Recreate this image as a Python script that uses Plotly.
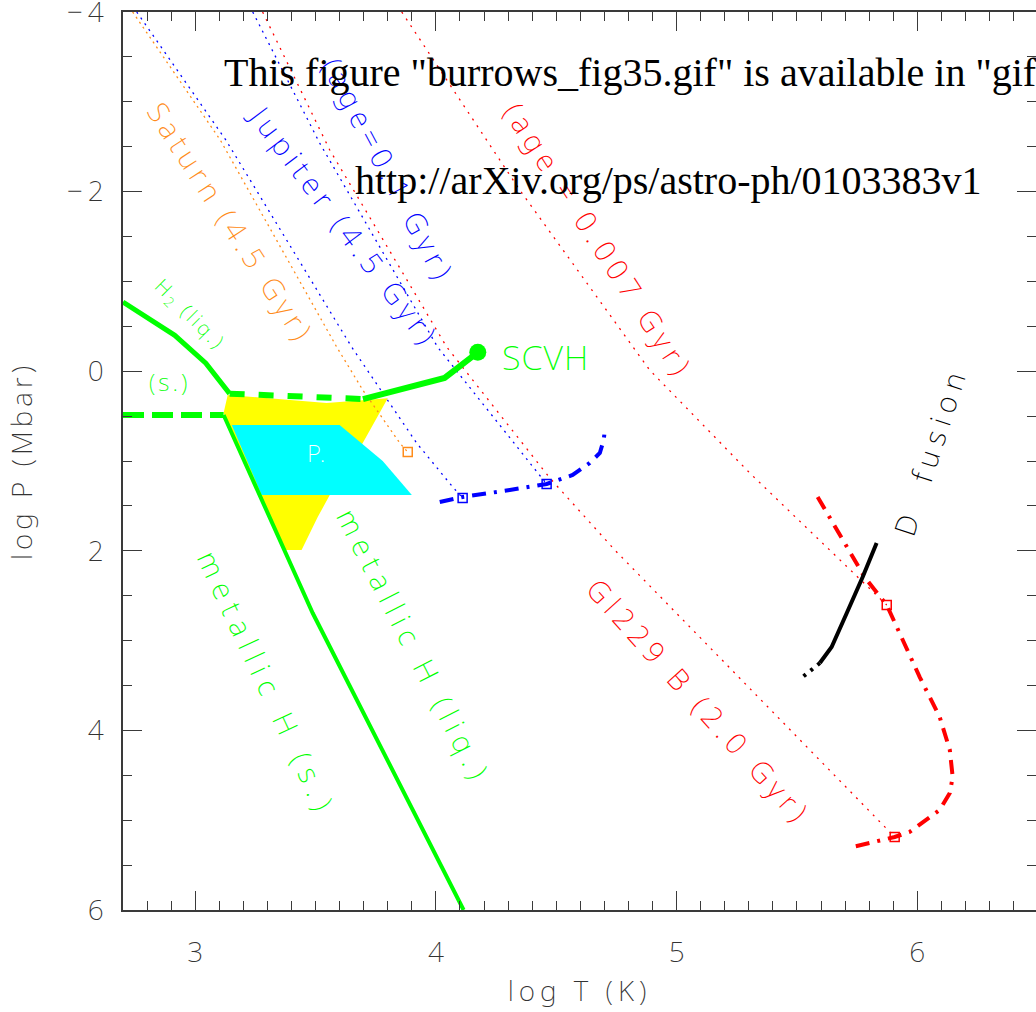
import plotly.graph_objects as go

# ---------------- data (log T [K], log P [Mbar]) ----------------
h2_melt_T = [2.70, 2.915, 3.044, 3.143]
h2_melt_P = [-0.77, -0.40, -0.09, 0.25]

ppt_dash_T = [3.143, 3.697]
ppt_dash_P = [0.25, 0.31]

scvh_T = [3.697, 4.036, 4.174]
scvh_P = [0.31, 0.075, -0.21]

solid_dash_T = [2.70, 3.118]
solid_dash_P = [0.488, 0.488]

metal_melt_T = [3.118, 3.488, 4.115]
metal_melt_P = [0.488, 2.693, 6.0]

yellow_T = [3.135, 3.546, 3.800, 3.696, 3.559, 3.509, 3.442, 3.372, 3.118]
yellow_P = [0.265, 0.354, 0.300, 0.800, 1.379, 1.624, 1.990, 1.990, 0.466]

cyan_T = [3.152, 3.600, 3.779, 3.900, 3.276]
cyan_P = [0.599, 0.599, 1.000, 1.379, 1.379]

saturn_T = [2.740, 3.104, 3.588, 3.696, 3.850, 3.883]
saturn_P = [-4.0, -2.575, -0.269, 0.209, 0.800, 0.900]

jupiter_T = [2.757, 3.127, 3.650, 3.920, 4.070, 4.111]
jupiter_P = [-4.0, -2.575, -0.269, 0.800, 1.290, 1.412]

age01_T = [3.239, 3.517, 4.007, 4.460]
age01_P = [-4.0, -2.541, -0.269, 1.256]

gl229_T = [3.280, 3.559, 4.045, 4.473, 4.743, 5.665, 5.906]
gl229_P = [-4.0, -2.463, -0.269, 1.189, 1.991, 4.519, 5.187]

age0007_T = [3.858, 4.348, 4.888, 5.304, 5.873]
age0007_P = [-4.0, -2.018, -0.013, 1.134, 2.604]

blue_track_T = [4.016, 4.111, 4.307, 4.460, 4.568, 4.639, 4.681, 4.697, 4.701]
blue_track_P = [1.457, 1.401, 1.323, 1.256, 1.156, 1.022, 0.911, 0.766, 0.677]

red_track_T = [5.586, 5.781, 5.873, 5.927, 6.010, 6.093, 6.135, 6.147, 6.135, 6.093, 5.968, 5.906, 5.732]
red_track_P = [1.401, 2.292, 2.604, 2.916, 3.406, 3.851, 4.218, 4.519, 4.697, 4.886, 5.131, 5.187, 5.298]

dfus_T = [5.831, 5.773, 5.707, 5.644, 5.595]
dfus_P = [1.913, 2.292, 2.693, 3.071, 3.250]
dfus_tail_T = [5.595, 5.561, 5.524]
dfus_tail_P = [3.250, 3.327, 3.405]

orange_sq_T = [3.883]
orange_sq_P = [0.900]
blue_sq_T = [4.111, 4.460]
blue_sq_P = [1.412, 1.256]
red_sq_T = [5.873, 5.906]
red_sq_P = [2.604, 5.187]

scvh_pt_T = [4.174]
scvh_pt_P = [-0.21]

x_ticks = [3, 4, 5, 6]
x_ticktext = ["3", "4", "5", "6"]
y_ticks = [-4, -2, 0, 2, 4, 6]
y_ticktext = ["\u2212\u20094", "\u2212\u20092", "0", "2", "4", "6"]

GREEN = "#00ff00"
BLUE = "#0000ff"
RED = "#ff0000"
ORANGE = "#ff8c1a"
FONT = "Noto Sans"
WEIGHT = 200
AXC = "#3a3a3a"

fig = go.Figure()


def spaced(text, ls):
    return f'<span style="letter-spacing:{ls}px">{text}</span>'


def line(x, y, color, width, dash="solid"):
    fig.add_trace(go.Scatter(x=x, y=y, mode="lines",
                             line=dict(color=color, width=width, dash=dash),
                             hoverinfo="skip", showlegend=False))


# filled regions
fig.add_trace(go.Scatter(x=yellow_T, y=yellow_P, mode="lines", fill="toself",
                         fillcolor="#ffff00", line=dict(width=0, color="#ffff00"),
                         showlegend=False, hoverinfo="skip"))
fig.add_trace(go.Scatter(x=cyan_T, y=cyan_P, mode="lines", fill="toself",
                         fillcolor="#00ffff", line=dict(width=0, color="#00ffff"),
                         showlegend=False, hoverinfo="skip"))

# dotted isentropes
line(saturn_T, saturn_P, ORANGE, 1.3, "2px,4px")
line(jupiter_T, jupiter_P, BLUE, 1.3, "2px,5px")
line(age01_T, age01_P, BLUE, 1.3, "2px,5px")
line(gl229_T, gl229_P, RED, 1.3, "2px,6px")
line(age0007_T, age0007_P, RED, 1.3, "2px,6px")

# green phase boundaries
line(h2_melt_T, h2_melt_P, GREEN, 5)
line(ppt_dash_T, ppt_dash_P, GREEN, 6, "15px,14px")
line(scvh_T, scvh_P, GREEN, 6)
line(solid_dash_T, solid_dash_P, GREEN, 6, "21px,8px")
line(metal_melt_T, metal_melt_P, GREEN, 4)

# evolutionary tracks
line(blue_track_T, blue_track_P, BLUE, 4, "14px,8px,3px,8px")
line(red_track_T, red_track_P, RED, 4, "14px,8px,3px,8px")
line(dfus_T, dfus_P, "black", 4)
line(dfus_tail_T, dfus_tail_P, "black", 4, "3px,6px")

# markers
fig.add_trace(go.Scatter(x=scvh_pt_T, y=scvh_pt_P, mode="markers",
                         marker=dict(color=GREEN, size=17), showlegend=False, hoverinfo="skip"))
for xs, ys, c in [(orange_sq_T, orange_sq_P, ORANGE), (blue_sq_T, blue_sq_P, BLUE), (red_sq_T, red_sq_P, RED)]:
    fig.add_trace(go.Scatter(x=xs, y=ys, mode="markers",
                             marker=dict(symbol="square-open", color=c, size=9, line=dict(width=1.5, color=c)),
                             showlegend=False, hoverinfo="skip"))


def label(text, x, y, color, size, angle=0, ls=0, xanchor="center"):
    fig.add_annotation(x=x, y=y, xref="x", yref="y", text=spaced(text, ls) if ls else text,
                       showarrow=False, textangle=angle, xanchor=xanchor, yanchor="middle",
                       font=dict(family=FONT, size=size, color=color, weight=WEIGHT))


label("Saturn (4.5 Gyr)", 3.152, -1.66, ORANGE, 29, 57, 5)
label("Jupiter (4.5 Gyr)", 3.620, -1.62, BLUE, 29, 53, 5.5)
label("(age=0.1 Gyr)", 3.808, -2.24, BLUE, 29, 62, 6)
label("(age = 0.007 Gyr)", 4.681, -1.46, RED, 29, 57, 6)
label("Gl229 B (2.0 Gyr)", 5.096, 3.68, RED, 29, 48, 6)
label("D  fusion", 6.051, 0.88, "black", 29, -72, 7)
label("metallic H (liq.)", 3.912, 3.07, GREEN, 29, 63, 7)
label("metallic H (s.)", 3.301, 3.48, GREEN, 29, 65, 8)
label("H<sub>2</sub> (liq.)", 2.977, -0.63, GREEN, 20, 45, 3)
label("(s.)", 2.894, 0.12, GREEN, 24, 0, 3)
label("SCVH", 4.265, -0.16, GREEN, 34, 0, 1, xanchor="left")
label("P.", 3.505, 0.91, "white", 24, 0, 2)

# arXiv placeholder text (paper coords are relative to the plot area)
fig.add_annotation(x=(222 - 123) / 913, y=(910 - 72) / 898, xref="paper", yref="paper",
                   text='This figure "burrows_fig35.gif" is available in "gif" format from:',
                   showarrow=False, xanchor="left", yanchor="middle",
                   font=dict(family="Liberation Serif", size=40, color="black"))
fig.add_annotation(x=(668 - 123) / 913, y=(910 - 180) / 898, xref="paper", yref="paper",
                   text="http://arXiv.org/ps/astro-ph/0103383v1",
                   showarrow=False, xanchor="center", yanchor="middle",
                   font=dict(family="Liberation Serif", size=40, color="black"))

tickfont = dict(family=FONT, size=28, color="#333", weight=WEIGHT)
axis_common = dict(showgrid=False, zeroline=False, showline=True, linecolor=AXC,
                   linewidth=1.5, mirror="ticks", ticks="inside", tickcolor=AXC,
                   ticklen=19, tickwidth=1.3, ticklabeloverflow="allow",
                   automargin=False, tickfont=tickfont)

fig.update_layout(
    width=1036, height=1012,
    margin=dict(l=123, r=0, t=12, b=102, autoexpand=False),
    paper_bgcolor="white", plot_bgcolor="white",
    font=dict(family=FONT, weight=WEIGHT),
    xaxis=dict(range=[2.7, 2.7 + 913 / 240.7], tickvals=x_ticks, ticktext=x_ticktext,
               minor=dict(dtick=0.1, ticklen=9, ticks="inside", tickcolor=AXC),
               ticklabelstandoff=17,
               title=dict(text=spaced("log T (K)", 5), standoff=12,
                          font=dict(family=FONT, size=28, color="#333", weight=WEIGHT)),
               **axis_common),
    yaxis=dict(range=[6, -4], tickvals=y_ticks, ticktext=y_ticktext,
               minor=dict(dtick=0.5, ticklen=9, ticks="inside", tickcolor=AXC),
               ticklabelstandoff=12,
               title=dict(text=spaced("log P (Mbar)", 4), standoff=26,
                          font=dict(family=FONT, size=28, color="#333", weight=WEIGHT)),
               **axis_common),
)

fig.write_html("out.html")
